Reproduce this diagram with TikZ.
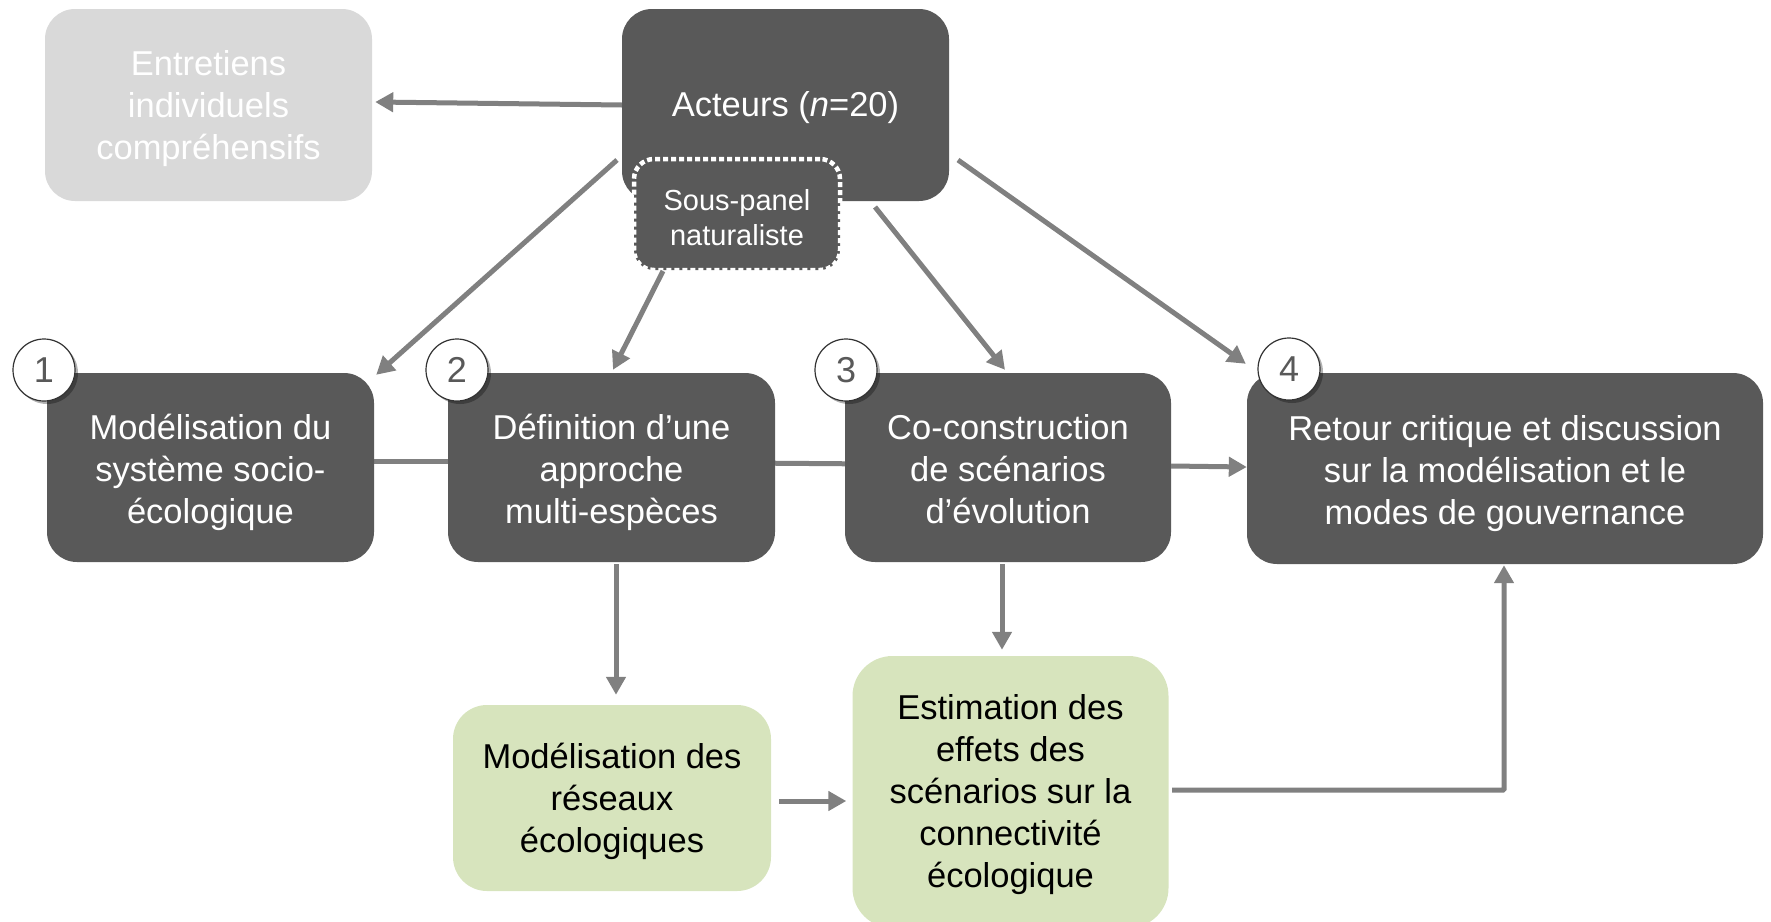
\documentclass[tikz,border=0pt]{standalone}
\usepackage{fontspec}
\setmainfont{Liberation Sans}
\usetikzlibrary{arrows.meta,shadows,calc}

\definecolor{boxdark}{HTML}{595959}
\definecolor{boxlight}{HTML}{D9D9D9}
\definecolor{boxgreen}{HTML}{D7E4BD}
\definecolor{linkgray}{HTML}{808080}
\definecolor{numgray}{HTML}{595959}

% centred lines with a fixed line pitch; the strut in the first row
% sets the text block a little below the middle of its box
\newcommand\lines[2][41pt]{\begin{tabular}{@{}c@{}}\rule{0pt}{#1}#2\end{tabular}}

\tikzset{
  base/.style={rounded corners=30pt, inner sep=0pt,
    font=\fontsize{34.5}{42}\selectfont},
  darkbox/.style={base, fill=boxdark, text=white},
  greybox/.style={base, fill=boxlight, text=white},
  greenbox/.style={base, fill=boxgreen, text=black},
  subpanel/.style={rounded corners=20pt, fill=boxdark, draw=white,
    line width=4.5pt, dash pattern=on 5pt off 3pt, text=white,
    inner sep=0pt, font=\fontsize{29}{35}\selectfont},
  stepnum/.style={circle, draw=black!80, line width=1.2pt, fill=white,
    minimum size=62pt, inner sep=0pt, text=numgray,
    font=\fontsize{36}{40}\selectfont,
    drop shadow={shadow xshift=3pt, shadow yshift=-3pt, opacity=0.3, fill=black}},
  link/.style={draw=linkgray, line width=5pt},
  arrowlink/.style={link, -{Triangle[length=18pt,width=19pt]}},
}

\begin{document}
\begin{tikzpicture}[x=1pt, y=-1pt]
  \useasboundingbox (0,0) rectangle (1771,921);
  \clip (0,0) rectangle (1771,921);

  % free ends of the connectors
  \coordinate (actL)  at (617,160);
  \coordinate (actR)  at (958,160);
  \coordinate (actB)  at (875,207);
  \coordinate (spB)   at (663,271);
  \coordinate (turn)  at (1504,790);

  % plain links drawn below the boxes
  \draw[link] (210,461) -- (612,461);
  \draw[link] (612,462) -- (1008,465);

  % top row
  \node[greybox, minimum width=327pt, minimum height=192pt] (ent) at (208.5,105)
    {\lines[38.5pt]{Entretiens\\individuels\\compréhensifs}};
  \node[darkbox, minimum width=327pt, minimum height=192pt] (act) at (785.5,105)
    {\lines[36.5pt]{Acteurs (\textit{n}=20)}};
  \node[subpanel, minimum width=206pt, minimum height=111pt] (sp) at (737,214.5)
    {\lines[38pt]{Sous-panel\\naturaliste}};

  % steps
  \node[darkbox, minimum width=327pt, minimum height=189pt] (b1) at (210.5,467.5)
    {\lines{Modélisation du\\système socio-\\écologique}};
  \node[darkbox, minimum width=327pt, minimum height=189pt] (b2) at (611.5,467.5)
    {\lines{Définition d’une\\approche\\multi-espèces}};
  \node[darkbox, minimum width=326pt, minimum height=189pt] (b3) at (1008,467.5)
    {\lines{Co-construction\\de scénarios\\d’évolution}};
  \node[darkbox, minimum width=516pt, minimum height=191pt] (b4) at (1505,468.5)
    {\lines{Retour critique et discussion\\sur la modélisation et le\\modes de gouvernance}};

  % ecological modelling
  \node[greenbox, rounded corners=34pt, minimum width=318pt, minimum height=186pt] (res) at (612,798)
    {\lines[38.5pt]{Modélisation des\\réseaux\\écologiques}};
  \node[greenbox, rounded corners=40pt, minimum width=316pt, minimum height=272pt] (est) at (1010.5,792)
    {\lines[36.5pt]{Estimation des\\effets des\\scénarios sur la\\connectivité\\écologique}};

  % step numbers
  \node[stepnum] (n1) at (44,370) {1};
  \node[stepnum] (n2) at (457,370) {2};
  \node[stepnum] (n3) at (846,370) {3};
  \node[stepnum] (n4) at (1289,369) {4};

  % arrows
  \draw[arrowlink] (act.west) -- ($(ent.east)+(3,-3)$);
  \draw[arrowlink] (actL) -- ($(b1.north east)+(2,2)$);
  \draw[arrowlink] (spB) -- ($(b2.north)+(1.5,-3)$);
  \draw[arrowlink] (actB) -- ($(b3.north)+(-3,-3)$);
  \draw[arrowlink] (actR) -- ($(b4.north west)+(-1,-9)$);
  \draw[arrowlink] ($(b3.east)+(0,-1.5)$) -- ($(b4.west)+(0,-1.5)$);
  \draw[arrowlink] ($(b2.south)+(4.5,2)$) -- ($(res.north)+(4,-10)$);
  \draw[arrowlink] ($(b3.south)+(-6,2)$) -- ($(est.north)+(-8.5,-6)$);
  \draw[arrowlink] ($(res.east)+(8,3)$) -- ($(est.west)+(-6,9)$);
  \draw[arrowlink, rounded corners=1pt] ($(est.east)+(3.5,-2)$) -- (turn) -- ($(b4.south)+(-1,1)$);
\end{tikzpicture}
\end{document}
